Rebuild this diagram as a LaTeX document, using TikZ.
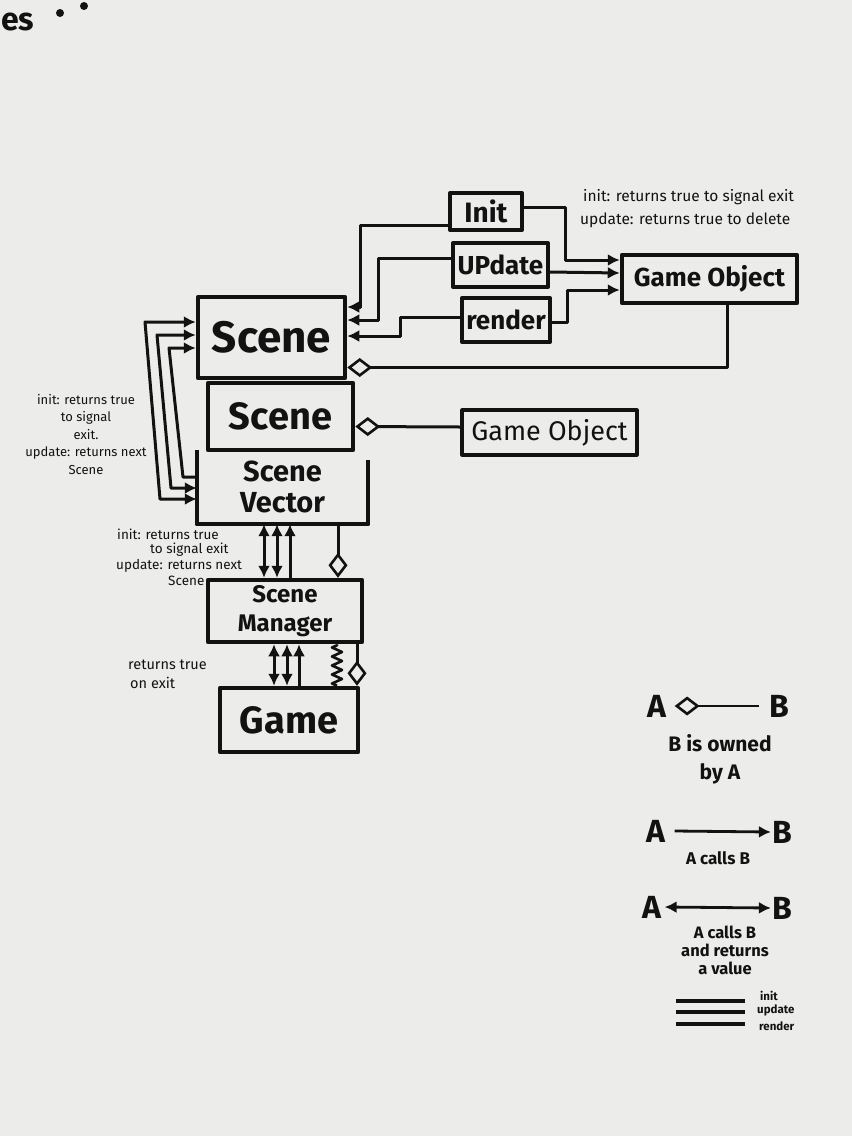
\documentclass[tikz,border=0pt]{standalone}
\usepackage{fontspec}
\setmainfont{Fira Sans}
\usetikzlibrary{arrows.meta,calc,decorations.pathmorphing}
\definecolor{paper}{RGB}{236,236,234}
\definecolor{ink}{RGB}{18,18,18}
\begin{document}
\begin{tikzpicture}[x=1pt,y=-1pt,
  >={Latex[length=12pt,width=12pt]},
  boxline/.style={draw=ink,line width=4.5pt,line join=round},
  box/.style={boxline,inner sep=0pt,text=ink},
  wire/.style={draw=ink,line width=3pt,line join=round},
  own/.style={wire,{Diamond[open,length=25pt,width=19pt,line width=2.6pt]}-},
  note/.style={text=ink,inner sep=0pt,font=\fontsize{13.5}{18}\selectfont},
  legend/.style={text=ink,inner sep=0pt,font=\bfseries\fontsize{32}{34}\selectfont},
  legtext/.style={text=ink,inner sep=0pt,align=center,font=\bfseries\fontsize{17}{18}\selectfont},
]
\fill[paper] (0,0) rectangle (852,1136);
\useasboundingbox (0,0) rectangle (852,1136);

% top-left fragment
\node[text=ink,inner sep=0pt,anchor=west,font=\bfseries\fontsize{32}{32}\selectfont] (es) at (1,22) {es};
\fill[ink] (60,13) circle (4);
\fill[ink] (84,6) circle (4);

% boxes
\node[box,minimum width=147pt,minimum height=81pt,font=\bfseries\fontsize{44}{46}\selectfont] (Scene1) at (271.5,337.5) {Scene};
\node[box,minimum width=145pt,minimum height=67pt,font=\bfseries\fontsize{38}{40}\selectfont] (Scene2) at (280.5,416.5) {Scene};
\node[inner sep=0pt,minimum width=171pt,minimum height=74pt,align=center,text=ink,font=\bfseries\fontsize{29}{31}\selectfont] (SV) at (282.5,487) {Scene\\Vector};
\draw[boxline] (SV.north west) -- (SV.south west) -- (SV.south east) -- ([yshift=-10pt]SV.north east);
\node[box,minimum width=154pt,minimum height=62pt,align=center,font=\bfseries\fontsize{24}{29}\selectfont] (SM) at (285,611) {Scene\\Manager};
\node[box,minimum width=138pt,minimum height=64pt,font=\bfseries\fontsize{38}{40}\selectfont] (Game) at (289,720) {Game};
\node[box,line width=4pt,minimum width=72pt,minimum height=37pt,font=\bfseries\fontsize{28}{30}\selectfont] (Init) at (486,211.5) {Init};
\node[box,line width=4pt,minimum width=95pt,minimum height=44pt,font=\bfseries\fontsize{26}{28}\selectfont] (Update) at (500.5,265) {UPdate};
\node[box,line width=4pt,minimum width=88pt,minimum height=44pt,font=\bfseries\fontsize{26}{28}\selectfont] (Render) at (506,320) {render};
\node[box,minimum width=175pt,minimum height=48pt,font=\bfseries\fontsize{26}{28}\selectfont] (GO1) at (709.5,279) {Game Object};
\node[box,line width=3.2pt,minimum width=175pt,minimum height=45pt,font=\fontsize{27}{28}\selectfont] (GO2) at (549.5,432.5) {Game Object};

% Scene <- Init / Update / render
\draw[wire,->] ([yshift=-13.5pt]Init.west) -- (360,225) -- (360,307) -- ([yshift=30.5pt]Scene1.east);
\draw[wire,->] ([yshift=7pt]Update.west) -- (378,258) -- (378,320) -- ([yshift=17.5pt]Scene1.east);
\draw[wire,->] ([yshift=3pt]Render.west) -- (400,317) -- (400,336) -- ([yshift=1.5pt]Scene1.east);
% Init / Update / render -> Game Object
\draw[wire,->] ([yshift=4.5pt]Init.east) -- (565,207) -- (565,260) -- ([yshift=19pt]GO1.west);
\draw[wire,->] ([yshift=-7pt]Update.east) -- ([yshift=6pt]GO1.west);
\draw[wire,->] ([yshift=-2pt]Render.east) -- (567,322) -- (567,290) -- ([yshift=-11pt]GO1.west);

% ownership
\draw[own] ([yshift=-30pt]Scene1.east) -- (727,367.5) -- ([xshift=17.5pt]GO1.south);
\draw[own] ([yshift=-10pt]Scene2.east) -- ([yshift=5.5pt]GO2.west);
\draw[own] ([xshift=53pt]SM.north) -- ([xshift=55.5pt]SV.south);
\draw[own] ([xshift=68pt]Game.north) -- ([xshift=72pt]SM.south);

% Scene Vector <-> Scene
\draw[wire,<->] ([yshift=-12pt]SV.west) -- (160,499) -- (145,322) -- ([yshift=15.5pt]Scene1.west);
\draw[wire,<->] ([yshift=-1pt]SV.west) -- (171,488) -- (157,335) -- ([yshift=2.5pt]Scene1.west);
\draw[wire,->] ([yshift=10pt]SV.west) -- (183,477) -- (169,348) -- ([yshift=-10.5pt]Scene1.west);

% Scene Manager <-> Scene Vector
\draw[wire,<->] ([xshift=-21pt]SM.north) -- ([xshift=-18.5pt]SV.south);
\draw[wire,<->] ([xshift=-8pt]SM.north) -- ([xshift=-5.5pt]SV.south);
\draw[wire,->] ([xshift=5pt]SM.north) -- ([xshift=7.5pt]SV.south);

% Game <-> Scene Manager
\draw[wire,<->] ([xshift=-15pt]Game.north) -- ([xshift=-11pt]SM.south);
\draw[wire,<->] ([xshift=-2pt]Game.north) -- ([xshift=2pt]SM.south);
\draw[wire,->] ([xshift=10pt]Game.north) -- ([xshift=14pt]SM.south);
\draw[wire,line width=2.6pt,decorate,decoration={zigzag,amplitude=5pt,segment length=9pt}] ([xshift=48pt]Game.north) -- ([xshift=52pt]SM.south);

% notes
\node[note,anchor=west,font=\fontsize{15.5}{18}\selectfont] (n1a) at (583,197) {init: returns true to signal exit};
\node[note,anchor=west,font=\fontsize{15.5}{18}\selectfont] (n1b) at (580,220) {update: returns true to delete};
\node[note,align=center,font=\fontsize{13}{17.5}\selectfont] (n2) at (86,434) {init: returns true\\to signal\\exit.\\update: returns next\\Scene};
\node[note,anchor=west] (n3a) at (117,534) {init: returns true};
\node[note,anchor=west] (n3b) at (150,550) {to signal exit};
\node[note,anchor=west] (n3c) at (116,566) {update: returns next};
\node[note,anchor=west] (n3d) at (168,581) {Scene};
\node[note,anchor=west,font=\fontsize{14.5}{18}\selectfont] (n4a) at (128,665) {returns true};
\node[note,anchor=west,font=\fontsize{14.5}{18}\selectfont] (n4b) at (130,683) {on exit};

% legend
\node[legend] (LA1) at (657,706) {A};
\node[legend] (LB1) at (779,706) {B};
\draw[own,line width=2.8pt] ([xshift=8pt]LA1.east) -- ([xshift=-10pt]LB1.west);
\node[legtext,font=\bfseries\fontsize{21}{28}\selectfont] (LT1) at (720,759) {B is owned\\by A};

\node[legend] (LA2) at (656,831) {A};
\node[legend] (LB2) at (782,832) {B};
\draw[wire,line width=2.8pt,->] ([xshift=9pt]LA2.east) -- ([xshift=-1pt]LB2.west);
\node[legtext] (LT2) at (718,858) {A calls B};

\node[legend] (LA3) at (652,907) {A};
\node[legend] (LB3) at (782,908) {B};
\draw[wire,line width=2.8pt,<->] ([xshift=3pt]LA3.east) -- ([xshift=-1pt]LB3.west);
\node[legtext,font=\bfseries\fontsize{16.5}{18}\selectfont] (LT3) at (725,950) {A calls B\\and returns\\a value};

\coordinate (L1a) at (676,1001); \coordinate (L1b) at (745,1001);
\coordinate (L2a) at (676,1012); \coordinate (L2b) at (745,1012);
\coordinate (L3a) at (676,1024); \coordinate (L3b) at (745,1024);
\draw[wire,line width=3.5pt] (L1a) -- (L1b);
\draw[wire,line width=3.5pt] (L2a) -- (L2b);
\draw[wire,line width=3.5pt] (L3a) -- (L3b);
\node[note,anchor=west,font=\bfseries\fontsize{11.5}{14}\selectfont] (LL1) at (760,996) {init};
\node[note,anchor=west,font=\bfseries\fontsize{11.5}{14}\selectfont] (LL2) at (757,1010) {update};
\node[note,anchor=west,font=\bfseries\fontsize{11.5}{14}\selectfont] (LL3) at (759,1026) {render};
\end{tikzpicture}
\end{document}
